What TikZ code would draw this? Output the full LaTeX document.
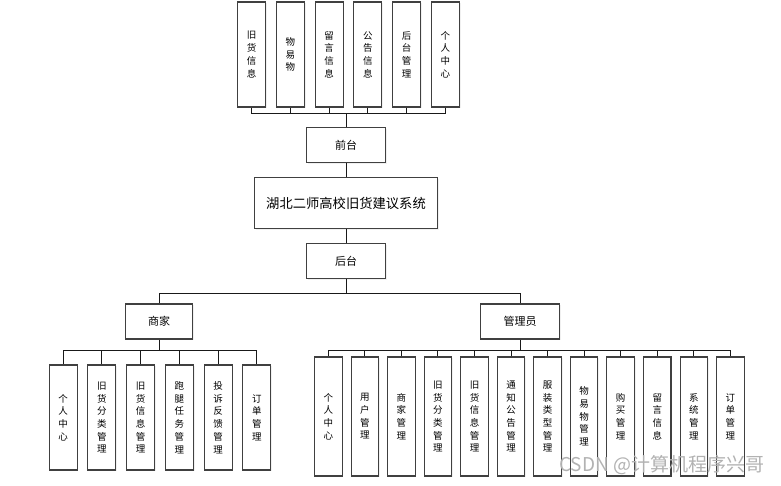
\documentclass[tikz,border=0pt]{standalone}
\usepackage{fontspec}
\newfontfamily\cjk{Noto Sans CJK SC}
\usetikzlibrary{positioning,shadows}

\begin{document}
\begin{tikzpicture}[
    x=1pt,y=-1pt,
    font=\cjk,
    box/.style={draw=black!75,line width=1.05pt,fill=white,align=center,inner sep=0pt,
                drop shadow={opacity=0.12,shadow xshift=1.2pt,shadow yshift=-1.2pt}},
    head/.style={box,minimum height=35pt,font=\cjk\fontsize{11}{13}\selectfont},
    leaf/.style={box,minimum width=28pt,minimum height=105pt,
                 font=\cjk\fontsize{9.5}{12.7}\selectfont},
    link/.style={draw=black!90,line width=0.95pt}
  ]
  \useasboundingbox (0,0) rectangle (781,485);

  % front-end modules
  \node[leaf] (t1) at (251.7,54.5) {旧\\货\\信\\息};
  \node[leaf,right=9.7pt of t1] (t2) {物\\易\\物};
  \node[leaf,right=9.7pt of t2] (t3) {留\\言\\信\\息};
  \node[leaf,right=9.7pt of t3] (t4) {公\\告\\信\\息};
  \node[leaf,right=9.7pt of t4] (t5) {后\\台\\管\\理};
  \node[leaf,right=9.7pt of t5] (t6) {个\\人\\中\\心};

  \node[head,minimum width=79pt] (front) at (346,145) {前台};
  \node[box,minimum width=183pt,minimum height=51pt,below=14pt of front,
        font=\cjk\fontsize{13.3}{15}\selectfont] (sys) {湖北二师高校旧货建议系统};
  \node[head,minimum width=79pt,below=14pt of sys] (back) {后台};

  \node[head,minimum width=67.5pt] (merchant) at (159,321.5) {商家};
  \node[head,minimum width=79pt]   (admin)    at (520,321.5) {管理员};

  % merchant modules
  \node[leaf] (m1) at (63.2,417.5) {个\\人\\中\\心};
  \node[leaf,right=9.7pt of m1] (m2) {旧\\货\\分\\类\\管\\理};
  \node[leaf,right=9.7pt of m2] (m3) {旧\\货\\信\\息\\管\\理};
  \node[leaf,right=9.7pt of m3] (m4) {跑\\腿\\任\\务\\管\\理};
  \node[leaf,right=9.7pt of m4] (m5) {投\\诉\\反\\馈\\管\\理};
  \node[leaf,right=9.7pt of m5] (m6) {订\\单\\管\\理};

  % admin modules
  \node[leaf,minimum width=27.5pt,minimum height=119pt] (a1) at (328.3,416.5) {个\\人\\中\\心};
  \node[leaf,minimum width=27.5pt,minimum height=119pt,right=8pt of a1]  (a2)  {用\\户\\管\\理};
  \node[leaf,minimum width=27.5pt,minimum height=119pt,right=8pt of a2]  (a3)  {商\\家\\管\\理};
  \node[leaf,minimum width=27.5pt,minimum height=119pt,right=8pt of a3]  (a4)  {旧\\货\\分\\类\\管\\理};
  \node[leaf,minimum width=27.5pt,minimum height=119pt,right=8pt of a4]  (a5)  {旧\\货\\信\\息\\管\\理};
  \node[leaf,minimum width=27.5pt,minimum height=119pt,right=8pt of a5]  (a6)  {通\\知\\公\\告\\管\\理};
  \node[leaf,minimum width=27.5pt,minimum height=119pt,right=8pt of a6]  (a7)  {服\\装\\类\\型\\管\\理};
  \node[leaf,minimum width=27.5pt,minimum height=119pt,right=8pt of a7]  (a8)  {物\\易\\物\\管\\理};
  \node[leaf,minimum width=27.5pt,minimum height=119pt,right=8pt of a8]  (a9)  {购\\买\\管\\理};
  \node[leaf,minimum width=27.5pt,minimum height=119pt,right=8pt of a9]  (a10) {留\\言\\信\\息};
  \node[leaf,minimum width=27.5pt,minimum height=119pt,right=8pt of a10] (a11) {系\\统\\管\\理};
  \node[leaf,minimum width=27.5pt,minimum height=119pt,right=8pt of a11] (a12) {订\\单\\管\\理};

  % trees
  \draw[link] (front.north) -- ++(0,-13.3) coordinate (topbus);
  \draw[link] (t1.south) |- (topbus) (t2.south) |- (topbus) (t3.south) |- (topbus)
              (t4.south) |- (topbus) (t5.south) |- (topbus) (t6.south) |- (topbus);
  \draw[link] (front) -- (sys);
  \draw[link] (sys) -- (back);

  \draw[link] (back.south) -- ++(0,14.5) coordinate (midbus);
  \draw[link] (merchant.north) |- (midbus) (admin.north) |- (midbus);

  \draw[link] (merchant.south) -- ++(0,11) coordinate (mbus);
  \draw[link] (m1.north) |- (mbus) (m2.north) |- (mbus) (m3.north) |- (mbus)
              (m4.north) |- (mbus) (m5.north) |- (mbus) (m6.north) |- (mbus);

  \draw[link] (admin.south) -- ++(0,11) coordinate (abus);
  \draw[link] (a1.north) |- (abus) (a2.north) |- (abus) (a3.north) |- (abus)
              (a4.north) |- (abus) (a5.north) |- (abus) (a6.north) |- (abus)
              (a7.north) |- (abus) (a8.north) |- (abus) (a9.north) |- (abus)
              (a10.north) |- (abus) (a11.north) |- (abus) (a12.north) |- (abus);

  \node[font=\cjk\fontsize{19}{21}\selectfont,text=black!30,anchor=east,inner sep=0pt] (mark)
       at (765,465) {CSDN\hspace{5pt}@计算机程序兴哥};
\end{tikzpicture}
\end{document}
